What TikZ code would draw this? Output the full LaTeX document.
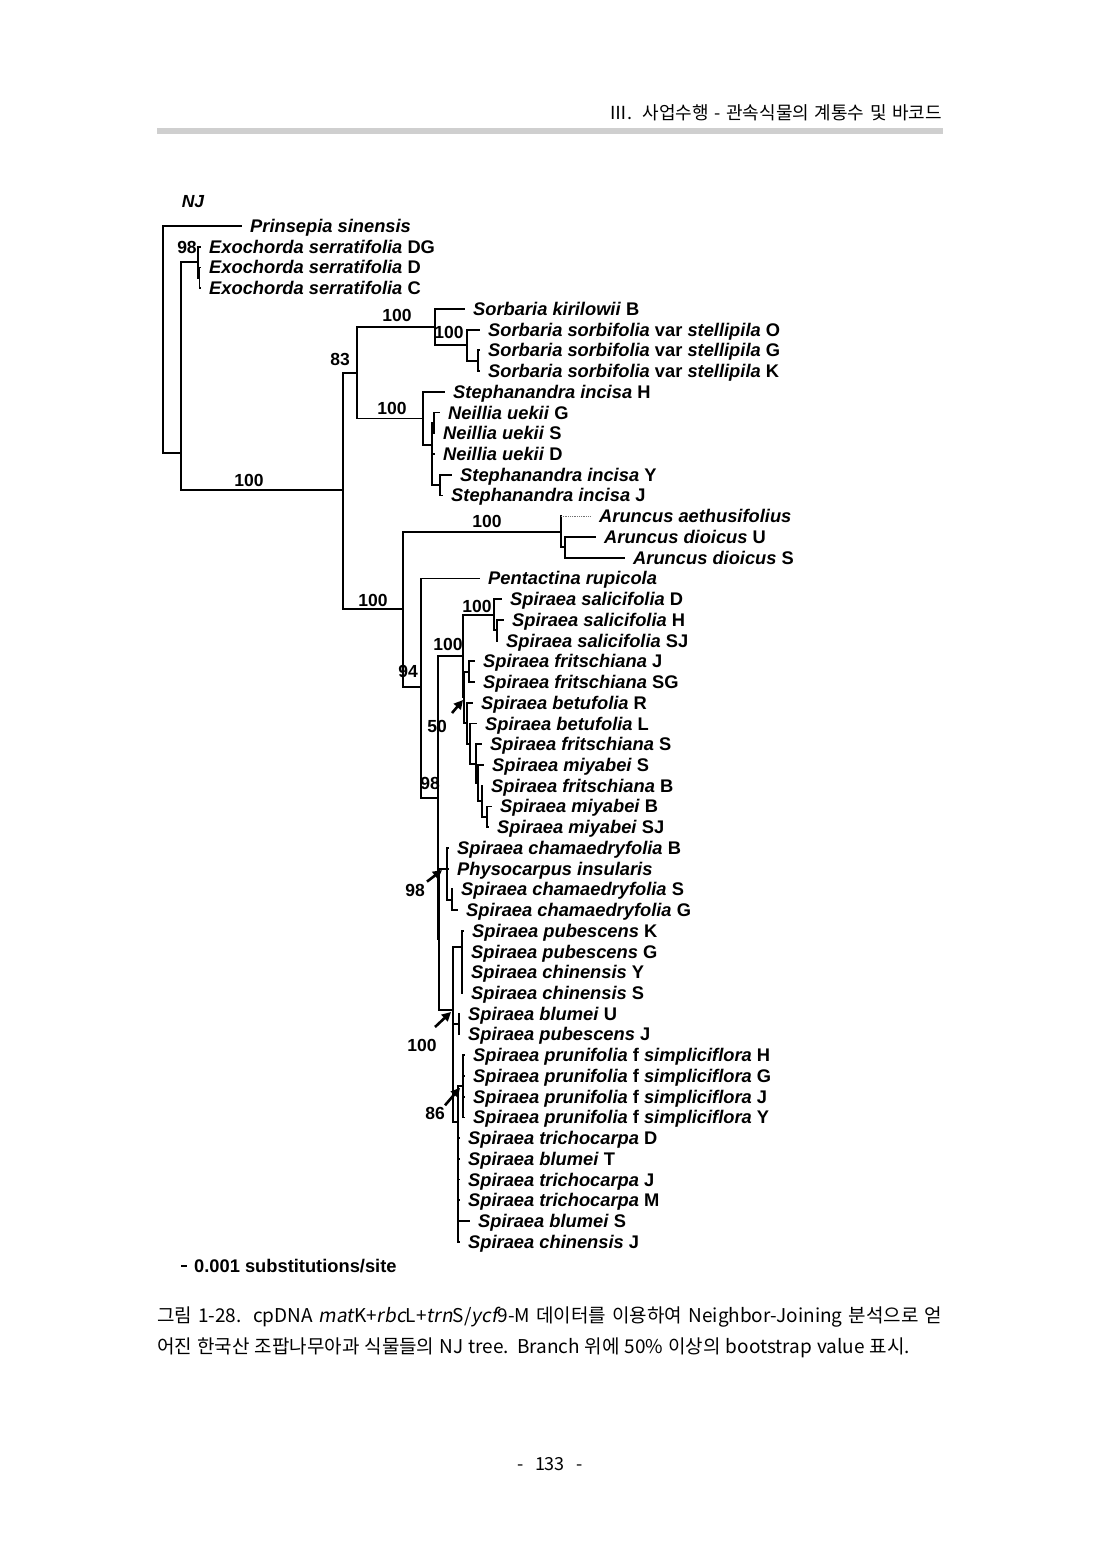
\documentclass[tikz,border=0pt]{standalone}
\usepackage{fontspec}
\setmainfont{Liberation Sans}
\newfontfamily\krfont{Noto Sans CJK KR}[ItalicFont={Noto Sans CJK KR},ItalicFeatures={FakeSlant=0.18}]
\usetikzlibrary{arrows.meta}
\tikzset{branch/.style={line width=1.8pt, line cap=rect}}
\tikzset{taxon/.style={anchor=west, inner sep=0pt, text height=13pt, text depth=0pt,
    font=\fontsize{18.3}{20}\selectfont\bfseries}}
\tikzset{boot/.style={inner sep=0pt, text height=12.5pt, text depth=0pt,
    font=\fontsize{17.5}{19}\selectfont\bfseries}}
\tikzset{bsarrow/.style={line width=2.6pt, -{Triangle[length=9pt,width=9pt]}}}
\tikzset{kr/.style={inner sep=0pt, font=\krfont\fontsize{#1}{#1}\selectfont}}

\begin{document}
\begin{tikzpicture}[x=1pt,y=-1pt]
    \useasboundingbox (0,0) rectangle (1100,1554);
    \fill[white] (0,0) rectangle (1100,1554);

    % page head
    \node[kr=18, anchor=east] (head) at (942,113) {\makebox[332pt][s]{Ⅲ. 사업수행 - 관속식물의 계통수 및 바코드}};
    \fill[black!19] (157,128) rectangle (943,134);

    \node[boot, font=\fontsize{17.5}{19}\selectfont\bfseries\itshape] (nj) at (193,201) {NJ};

    % one taxon per row
    \foreach \x/\t [count=\i] in {
        250/{\textit{Prinsepia sinensis}},
        209/{\textit{Exochorda serratifolia} DG},
        209/{\textit{Exochorda serratifolia} D},
        209/{\textit{Exochorda serratifolia} C},
        473/{\textit{Sorbaria kirilowii} B},
        488/{\textit{Sorbaria sorbifolia} var \textit{stellipila} O},
        488/{\textit{Sorbaria sorbifolia} var \textit{stellipila} G},
        488/{\textit{Sorbaria sorbifolia} var \textit{stellipila} K},
        453/{\textit{Stephanandra incisa} H},
        448/{\textit{Neillia uekii} G},
        443/{\textit{Neillia uekii} S},
        443/{\textit{Neillia uekii} D},
        460/{\textit{Stephanandra incisa} Y},
        451/{\textit{Stephanandra incisa} J},
        599/{\textit{Aruncus aethusifolius}},
        604/{\textit{Aruncus dioicus} U},
        633/{\textit{Aruncus dioicus} S},
        488/{\textit{Pentactina rupicola}},
        510/{\textit{Spiraea salicifolia} D},
        512/{\textit{Spiraea salicifolia} H},
        506/{\textit{Spiraea salicifolia} SJ},
        483/{\textit{Spiraea fritschiana} J},
        483/{\textit{Spiraea fritschiana} SG},
        481/{\textit{Spiraea betufolia} R},
        485/{\textit{Spiraea betufolia} L},
        490/{\textit{Spiraea fritschiana} S},
        492/{\textit{Spiraea miyabei} S},
        491/{\textit{Spiraea fritschiana} B},
        500/{\textit{Spiraea miyabei} B},
        497/{\textit{Spiraea miyabei} SJ},
        457/{\textit{Spiraea chamaedryfolia} B},
        457/{\textit{Physocarpus insularis}},
        461/{\textit{Spiraea chamaedryfolia} S},
        466/{\textit{Spiraea chamaedryfolia} G},
        472/{\textit{Spiraea pubescens} K},
        471/{\textit{Spiraea pubescens} G},
        471/{\textit{Spiraea chinensis} Y},
        471/{\textit{Spiraea chinensis} S},
        468/{\textit{Spiraea blumei} U},
        468/{\textit{Spiraea pubescens} J},
        473/{\textit{Spiraea prunifolia} f \textit{simpliciflora} H},
        473/{\textit{Spiraea prunifolia} f \textit{simpliciflora} G},
        473/{\textit{Spiraea prunifolia} f \textit{simpliciflora} J},
        473/{\textit{Spiraea prunifolia} f \textit{simpliciflora} Y},
        468/{\textit{Spiraea trichocarpa} D},
        468/{\textit{Spiraea blumei} T},
        468/{\textit{Spiraea trichocarpa} J},
        468/{\textit{Spiraea trichocarpa} M},
        478/{\textit{Spiraea blumei} S},
        468/{\textit{Spiraea chinensis} J}}
      \node[taxon] (l\i) at (\x,{226+20.73*(\i-1)}) {\t};
    \foreach \i in {1,...,50}
      \coordinate (t\i) at ([xshift=-9pt]l\i.west);

    % inner nodes
    \coordinate (root) at (163,339.5);
    \coordinate (nIn) at (181,453);
    \coordinate (exo) at (198,262.3);
    \coordinate (exo2) at (199.5,277.8);
    \coordinate (nSp) at (343,490);
    \coordinate (sn) at (357,372.7);
    \coordinate (sor) at (435,327);
    \coordinate (sor1) at (467,345.2);
    \coordinate (sor2) at (478,360.7);
    \coordinate (nst) at (423,418.4);
    \coordinate (nei2) at (432,445);
    \coordinate (na) at (434,422.9);
    \coordinate (stYJ) at (440,485.1);
    \coordinate (n403) at (403,608.6);
    \coordinate (aru) at (561,531.8);
    \coordinate (aru2) at (565,547.3);
    \coordinate (n421) at (421,687);
    \coordinate (n438) at (438,797.6);
    \coordinate (n463) at (463,656.1);
    \coordinate (sal) at (494,614.7);
    \coordinate (sal2) at (497,630.2);
    \coordinate (n50) at (464,697.5);
    \coordinate (fj) at (469,671.7);
    \coordinate (c1) at (467,723.2);
    \coordinate (c2) at (470,743.6);
    \coordinate (c3) at (476,763.7);
    \coordinate (c4) at (478,783.1);
    \coordinate (c5) at (482,801.1);
    \coordinate (c6) at (487,816.8);
    \coordinate (nX) at (439,939.3);
    \coordinate (cham) at (447,868.6);
    \coordinate (chS2) at (452,899.7);
    \coordinate (nY) at (453,1010);
    \coordinate (pub) at (462,947);
    \coordinate (bUpJ) at (459,1024.1);
    \coordinate (nZ) at (458,1122);
    \coordinate (prun) at (463,1086.3);

    % branches
    \draw[branch] (root) |- (t1) (root) |- (nIn);
    \draw[branch] (nIn) |- (exo) (nIn) |- (nSp);
    \draw[branch] (exo) |- (t2) (exo) |- (exo2);
    \draw[branch] (exo2) |- (t3) (exo2) |- (t4);
    \draw[branch] (nSp) |- (sn) (nSp) |- (n403);
    \draw[branch] (sn) |- (sor) (sn) |- (nst);
    \draw[branch] (sor) |- (t5) (sor) |- (sor1);
    \draw[branch] (sor1) |- (t6) (sor1) |- (sor2);
    \draw[branch] (sor2) |- (t7) (sor2) |- (t8);
    \draw[branch] (nst) |- (t9) (nst) |- (nei2);
    \draw[branch] (nei2) |- (na) (nei2) |- (t12) (nei2) |- (stYJ);
    \draw[branch] (na) |- (t10) (na) |- (t11);
    \draw[branch] (stYJ) |- (t13) (stYJ) |- (t14);
    \draw[branch] (n403) |- (aru) (n403) |- (n421);
    \draw[branch] (aru) -- (aru |- t15) (aru) |- (aru2);
    \draw[densely dotted, black!55, line width=0.8pt] (aru |- t15) -- (t15);
    \draw[branch] (aru2) |- (t16) (aru2) |- (t17);
    \draw[branch] (n421) |- (t18) (n421) |- (n438);
    \draw[branch] (n438) |- (n463) (n438) |- (nX);
    \draw[branch] (n463) |- (sal) (n463) |- (n50);
    \draw[branch] (sal) |- (t19) (sal) |- (sal2);
    \draw[branch] (sal2) |- (t20) (sal2) |- (t21);
    \draw[branch] (n50) |- (fj) (n50) |- (c1);
    \draw[branch] (fj) |- (t22) (fj) |- (t23);
    \draw[branch] (c1) |- (t24) (c1) |- (c2);
    \draw[branch] (c2) |- (t25) (c2) |- (c3);
    \draw[branch] (c3) |- (t26) (c3) |- (c4);
    \draw[branch] (c4) |- (t27) (c4) |- (c5);
    \draw[branch] (c5) |- (t28) (c5) |- (c6);
    \draw[branch] (c6) |- (t29) (c6) |- (t30);
    \draw[branch] (nX) |- (cham) (nX) |- (nY);
    \draw[branch] (cham) |- (t31) (cham) |- (t32) (cham) |- (chS2);
    \draw[branch] (chS2) |- (t33) (chS2) |- (t34);
    \draw[branch] (nY) |- (pub) (nY) |- (bUpJ) (nY) |- (nZ);
    \draw[branch] (pub) |- (t35) (pub) |- (t36) (pub) |- (t37) (pub) |- (t38);
    \draw[branch] (bUpJ) |- (t39) (bUpJ) |- (t40);
    \draw[branch] (nZ) |- (prun);
    \foreach \i in {45,...,50}
      \draw[branch] (nZ) |- (t\i);
    \foreach \i in {41,...,44}
      \draw[branch] (prun) |- (t\i);

    % bootstrap values
    \node[boot] (bExo) at (187,247) {98};
    \node[boot] (bIn) at (249,480) {100};
    \node[boot] (bSn) at (340,359) {83};
    \node[boot] (bSor) at (397,315) {100};
    \node[boot] (bSor1) at (449,332) {100};
    \node[boot] (bNst) at (392,408) {100};
    \node[boot] (bAru) at (487,521) {100};
    \node[boot] (b403) at (373,600) {100};
    \node[boot] (bSal) at (477,606) {100};
    \node[boot] (b463) at (448,644) {100};
    \node[boot] (b421) at (408,671) {94};
    \node[boot] (b50) at (437,726) {50};
    \node[boot] (b438) at (430,783) {98};
    \node[boot] (bCham) at (415,890) {98};
    \node[boot] (bY) at (422,1045) {100};
    \node[boot] (bPrun) at (435,1113) {86};

    \coordinate (a50) at ([shift={(-12,15.5)}]n50);
    \coordinate (aCham) at ([shift={(-20,13)}]cham);
    \coordinate (aY) at ([shift={(-18,17)}]nY);
    \coordinate (aPrun) at ([shift={(-18,19)}]prun);
    \draw[bsarrow] (a50) -- ([shift={(-1,2.5)}]n50);
    \draw[bsarrow] (aCham) -- ([shift={(-5,1.5)}]cham);
    \draw[bsarrow] (aY) -- ([shift={(-2,2)}]nY);
    \draw[bsarrow] (aPrun) -- ([shift={(-3,1.5)}]prun);

    % scale
    \coordinate (sb) at (181,1266);
    \draw[line width=1.8pt] (sb) -- ++(5.5,0);
    \node[boot, anchor=west, font=\fontsize{18.3}{19}\selectfont\bfseries] (sbl) at (194,1266) {0.001 substitutions/site};

    % caption
    \node[kr=19, anchor=west] (cap1) at (157,1317) {\makebox[785pt][s]{그림 1-28. cpDNA \textit{mat}K+\textit{rbc}L+\textit{trn}S/\textit{ycf}9-M 데이터를 이용하여 Neighbor-Joining 분석으로 얻}};
    \node[kr=19, anchor=west] (cap2) at (157,1348) {\makebox[753pt][s]{어진 한국산 조팝나무아과 식물들의 NJ tree. Branch 위에 50\% 이상의 bootstrap value 표시.}};

    \node[kr=18] (pgno) at (550,1464) {\makebox[66pt][s]{- 133 -}};
\end{tikzpicture}
\end{document}
